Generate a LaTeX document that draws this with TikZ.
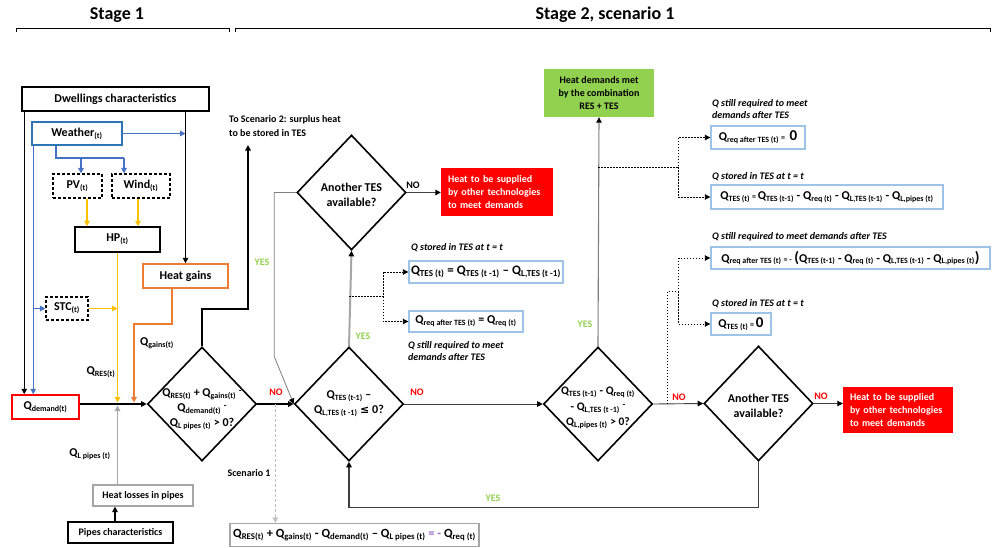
\documentclass[tikz,border=0pt]{standalone}
\usepackage{fontspec}
\setmainfont{Carlito}
\newfontfamily\symfont{DejaVu Sans}
\usetikzlibrary{arrows.meta,shapes.geometric,calc}

\definecolor{wblue}{HTML}{2E75B6}
\definecolor{ablue}{HTML}{4472C4}
\definecolor{lblue}{HTML}{9DC3E6}
\definecolor{orng}{HTML}{ED7D31}
\definecolor{yel}{HTML}{FFC000}
\definecolor{lgray}{HTML}{A6A6A6}
\definecolor{vlgray}{HTML}{BFBFBF}
\definecolor{mgray}{HTML}{7F7F7F}
\definecolor{dgray}{HTML}{404040}
\definecolor{okgreen}{HTML}{92D050}
\definecolor{nored}{HTML}{FF0000}
\definecolor{purp}{HTML}{9966CC}

% heat quantity with subscript
\newcommand\Qs[1]{Q\textsubscript{#1}}
\newcommand\sm[1]{{\fontsize{8}{9}\selectfont #1}}
\newcommand\fs[1]{\fontsize{#1}{#1}\selectfont}
% small raised minus used at line ends
\newcommand\rmin{\raisebox{3pt}{\fs{9}-}}

\begin{document}
\begin{tikzpicture}[x=1pt,y=-1pt,
  font=\bfseries\fs{12},
  box/.style={draw, line width=1.5pt, inner sep=0pt, align=center},
  dbox/.style={box, line width=1.1pt, dash pattern=on 3pt off 2pt},
  fbox/.style={draw=lblue, line width=1.4pt, inner sep=0pt},
  dia/.style={draw, shape=diamond, inner sep=0pt, line width=1.6pt,
              minimum width=109pt, minimum height=114pt},
  diatext/.style={align=center, inner sep=0pt, font=\bfseries\fontsize{12}{15}\selectfont},
  note/.style={anchor=west, align=left, inner sep=0pt,
               font=\bfseries\itshape\fontsize{10}{12.5}\selectfont},
  lbl/.style={inner sep=0pt, font=\bfseries\fs{10}},
  yes/.style={lbl, text=okgreen},
  no/.style={lbl, text=nored},
  tipa/.style={-{Triangle[length=5.5pt,width=5.5pt]}},
  arr/.style={tipa, line width=1.3pt},
  tarr/.style={-{Triangle[length=5.5pt,width=5.5pt,color=black]}, line width=0.9pt, dgray},
  barr/.style={tipa, line width=1.2pt, ablue},
  yarr/.style={tipa, line width=1.6pt, yel},
  oarr/.style={tipa, line width=1.6pt, orng},
  garr/.style={tipa, line width=1.4pt, lgray},
  dotarr/.style={-{Triangle[length=5.5pt,width=5.5pt,color=black]}, line width=0.9pt,
                 dash pattern=on 1.5pt off 1.5pt},
  redbox/.style={fill=nored, text=white, align=left, inner ysep=0pt, inner xsep=7pt,
                 font=\bfseries\fontsize{10}{13}\selectfont},
]
\useasboundingbox (0,0) rectangle (994,547);

% ---------- headings ----------
\node[font=\bfseries\fs{18}] (st1) at (117,15) {Stage 1};
\node[font=\bfseries\fs{18}] (st2) at (605,15) {Stage 2, scenario 1};
\draw[line width=1pt] (16,32) -- (16,28) -- (229,28) -- (229,32);
\draw[line width=1pt] (235,32) -- (235,28) -- (990,28) -- (990,32);

% ---------- stage 1 boxes ----------
\node[box, minimum width=187pt, minimum height=24pt] (dwell) at (115.5,99) {Dwellings characteristics};
\node[box, draw=wblue, minimum width=90pt, minimum height=23pt] (weather) at (77,133.5) {Weather\textsubscript{(t)}};
\node[dbox, minimum width=49pt, minimum height=24pt] (pv) at (77.5,186) {PV\textsubscript{(t)}};
\node[dbox, minimum width=58pt, minimum height=24pt] (wind) at (141,186) {Wind\textsubscript{(t)}};
\node[box, minimum width=85pt, minimum height=25pt] (hp) at (117.5,239.5) {HP\textsubscript{(t)}};
\node[dbox, minimum width=42pt, minimum height=23pt] (stc) at (67,308.5) {STC\textsubscript{(t)}};
\node[box, draw=orng, minimum width=85pt, minimum height=24pt] (gains) at (185.5,276) {Heat gains};
\node[box, draw=nored, minimum width=67pt, minimum height=24pt] (qdem) at (45.5,407) {\Qs{demand(t)}};
\node[box, draw=lgray, line width=1.2pt, minimum width=100pt, minimum height=21pt, font=\bfseries\fs{10}] (losses) at (143,495.5) {Heat losses in pipes};
\node[box, line width=1.8pt, minimum width=105pt, minimum height=21pt, font=\bfseries\fs{10}] (pipes) at (120.5,532.5) {Pipes characteristics};

\node (qgains) at (157,343) {\Qs{gains(t)}};
\node (qres) at (101,372) {\Qs{RES(t)}};
\node (qlp) at (90,454) {\Qs{L pipes (t)}};

% ---------- decisions ----------
\node[dia] (d1) at (202,404) {};
\node[diatext] (d1t) at (202,409) {\Qs{RES(t)} + \Qs{gains(t)} \rmin\\ \Qs{demand(t)} \rmin\\ \Qs{L pipes (t)} > 0?};
\node[dia] (d2) at (349,404) {};
\node[diatext] (d2t) at (349,404) {\Qs{TES (t-1)} --\\ \Qs{L,TES (t -1)} {\symfont\fs{11}≤} 0?};
\node[dia, minimum height=115pt] (d3) at (351.5,192.5) {};
\node[diatext] (d3t) at (351.5,195) {Another TES\\available?};
\node[dia] (d4) at (598,404) {};
\node[diatext, font=\bfseries\fontsize{11.5}{15.5}\selectfont] (d4t) at (598,408) {\Qs{TES (t-1)} - \Qs{req (t)}\\- \Qs{L,TES (t -1)} \rmin\\ \Qs{L,pipes (t)} > 0?};
\node[dia, minimum height=115pt] (d5) at (758.5,403.5) {};
\node[diatext] (d5t) at (758.5,406) {Another TES\\available?};

% ---------- outcomes ----------
\node[redbox, text width=98pt, minimum height=48pt] (redA) at (497,192) {Heat to be supplied\\by other technologies\\to meet demands};
\node[redbox, text width=96pt, minimum height=46pt] (redB) at (898,410) {Heat to be supplied\\by other technologies\\to meet demands};
\node[fill=okgreen, align=center, inner sep=0pt, minimum width=110pt, minimum height=48pt,
      font=\bfseries\fontsize{10}{13}\selectfont] (green) at (599,93) {Heat demands met\\by the combination\\RES + TES};

% ---------- balance equations ----------
\node[fbox, draw=lgray, minimum width=249pt, minimum height=23pt, font=\bfseries\fs{12.5}] (fbot) at (354.5,535)
  {\Qs{RES(t)} + \Qs{gains(t)} - \Qs{demand(t)} -- \Qs{L pipes (t)} \textcolor{purp}{= -} \Qs{req (t)}};
\node[fbox, minimum width=154pt, minimum height=22pt, font=\bfseries\fs{13}] (boxA) at (486,272)
  {\Qs{TES (t)} = \Qs{TES (t -1)} -- \Qs{L,TES (t -1)}};
\node[fbox, minimum width=114pt, minimum height=21pt] (boxB) at (466,321.5)
  {\Qs{req after TES (t)} = \Qs{req (t)}};
\node[fbox, minimum width=94pt, minimum height=23pt] (boxC) at (758,137.5)
  {\Qs{req after TES (t)}\sm{ = } {\fs{15}0}};
\node[fbox, minimum width=232pt, minimum height=24pt] (boxD) at (827,197)
  {\Qs{TES (t)}\sm{ = }\Qs{TES (t-1)} - \Qs{req (t)} - \Qs{L,TES (t-1)} - \Qs{L,pipes (t)}};
\node[fbox, minimum width=279pt, minimum height=22pt] (boxE) at (850.5,258)
  {\Qs{req after TES (t)}\sm{ = -} {\fs{15}(}\Qs{TES (t-1)} - \Qs{req (t)} - \Qs{L,TES (t-1)} - \Qs{L,pipes (t)}{\fs{15})}};
\node[fbox, minimum width=60pt, minimum height=22pt] (boxF) at (741,324)
  {\Qs{TES (t)}\sm{ = }{\fs{15}0}};

% ---------- annotations ----------
\node[anchor=west, align=left, inner sep=0pt, font=\bfseries\fontsize{10}{14}\selectfont] (toS2) at (229,126)
  {To Scenario 2: surplus heat\\to be stored in TES};
\node[lbl] (sc1lbl) at (249,473) {Scenario 1};
\node[note] (n1) at (411,248) {Q stored in TES at t = t};
\node[note] (n2) at (408,351) {Q still required to meet\\demands after TES};
\node[note] (n3) at (712,109) {Q still required to meet\\demands after TES};
\node[note] (n4) at (712,177) {Q stored in TES at t = t};
\node[note] (n5) at (712,237) {Q still required to meet demands after TES};
\node[note] (n6) at (712,304) {Q stored in TES at t = t};

\node[yes] (y1) at (262,262) {YES};
\node[no] (no1) at (276,392) {NO};
\node[lbl] (no2) at (413,185) {NO};
\node[yes] (y2) at (363,336) {YES};
\node[no] (no3) at (417,392) {NO};
\node[yes] (y3) at (585,324) {YES};
\node[no] (no4) at (679,397) {NO};
\node[no] (no5) at (821,396) {NO};
\node[yes] (y4) at (493,498) {YES};

% ---------- stage 1 connectors ----------
\coordinate (dl) at ([xshift=3pt]dwell.south west);
\draw[arr] (dl) -- (dl |- qdem.north);
\draw[arr] (dwell.south -| gains.north) -- (gains.north);
\draw[barr] (weather.east) -- (weather.east -| gains.north);
\coordinate (wl) at ([xshift=2pt]weather.south west);
\draw[barr] (wl) -- (wl |- qdem.north);
\draw[barr] (wl |- stc.west) -- (stc.west);
\coordinate (ws) at ([xshift=-21pt]weather.south);
\coordinate (pvin) at ([xshift=3.5pt]pv.north);
\coordinate (wdin) at ([xshift=-17pt]wind.north);
\draw[ablue, line width=2pt] (ws) -- ++(0,12) coordinate (wsplit) -- (wsplit -| wdin);
\draw[barr] (wsplit -| pvin) -- (pvin);
\draw[barr] (wsplit -| wdin) -- (wdin);
\coordinate (pvout) at ([xshift=9.5pt]pv.south);
\draw[yarr] (pvout) -- (pvout |- hp.north);
\coordinate (wdout) at ([xshift=-3pt]wind.south);
\draw[yarr] (wdout) -- (wdout |- hp.north);
\draw[yarr, shorten >=1.5pt] (hp.south) -- (hp.south |- d1.west);
\draw[yarr] (stc.east) -- (stc.east -| hp.south);
\coordinate (gout) at ([xshift=-13.5pt]gains.south);
\coordinate (gx) at ([xshift=16.5pt]hp.south);
\draw[oarr, shorten >=1.5pt] (gout) -- ++(0,35) -| (gx |- d1.west);
\draw[garr, shorten >=1.5pt] (losses.north -| hp.south) -- (hp.south |- d1.west);
\coordinate (pin) at ([xshift=-5.5pt]pipes.north);
\draw[arr] (pin) -- (pin |- losses.south);
\draw[arr] (qdem.east |- d1.west) -- (d1.west);

% ---------- stage 2 connectors ----------
\coordinate (s2) at (248,145);
\draw[arr, line width=1.8pt] (d1.north) -- ++(0,-37) -| (s2);
\draw[arr] (d1.east) -- (d2.west);
\coordinate (sc1) at ([xshift=18pt]d1.east);
\draw[tipa, vlgray, line width=1pt, dash pattern=on 3pt off 2pt] (sc1) -- (sc1 |- fbot.north);
\draw[mgray, line width=0.8pt, -{Triangle[length=5.5pt,width=5.5pt,color=black]}] (d3.west) -- ++(-22,0) -- ++(0,164) -- (d2.west);
\draw[lgray, line width=2pt, -{Triangle[length=5.5pt,width=5.5pt,color=black]}] (d2.north) -- (d3.south);
\draw[line width=1.1pt, dgray, -{Triangle[length=5.5pt,width=5.5pt,color=black]}] (d3.east) -- (d3.east -| redA.west);
\coordinate (mAB) at ($(boxA.west)!0.5!(boxB.west)$);
\coordinate (t1) at (d2.north |- mAB);
\draw[dotarr] (t1) -- ++(34,0) coordinate (t1b) |- (boxA.west);
\draw[dotarr] (t1b) |- (boxB.west);
\draw[tarr] (d2.east) -- (d4.west);
\draw[mgray, line width=1.1pt, -{Triangle[length=5.5pt,width=5.5pt,color=black]}] (d4.north) -- (green.south);
\coordinate (mCD) at ($(boxC.west)!0.5!(boxD.west)$);
\coordinate (t2) at (d4.north |- mCD);
\draw[dotarr] (t2) -- ++(80,0) coordinate (t2b) |- (boxC.west);
\draw[dotarr] (t2b) |- (boxD.west);
\draw[tarr] (d4.east) -- (d5.west);
\coordinate (t3) at ([xshift=14.5pt]d4.east);
\coordinate (mEF) at ($(boxE.west)!0.5!(boxF.west)$);
\draw[dotarr] (t3) -- (t3 |- mEF) -- ++(11,0) coordinate (t3b) |- (boxE.west);
\draw[dotarr] (t3b) |- (boxF.west);
\draw[tarr] (d5.east) -- (d5.east -| redB.west);
\draw[tarr, line width=1.2pt] (d5.south) -- ++(0,46) -| (d2.south);
\end{tikzpicture}
\end{document}
